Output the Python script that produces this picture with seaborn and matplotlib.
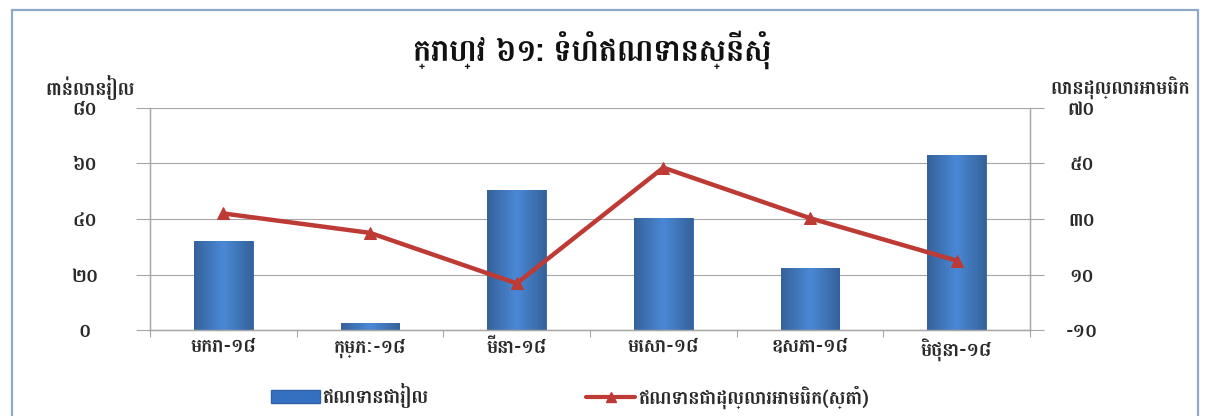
import matplotlib
matplotlib.use("Agg")
import matplotlib.pyplot as plt
import matplotlib.patches as mpatches
from matplotlib.lines import Line2D
import numpy as np
import seaborn as sns

# Monthly loan applications, 2018
months = ["មករា-១៨", "កុម្ភៈ-១៨", "មីនា-១៨", "មេសា-១៨", "ឧសភា-១៨", "មិថុនា-១៨"]
riel_loans = [32, 2.5, 50.5, 40.3, 22.3, 63]      # billion riel (left axis)
usd_loans = [32, 25, 6.8, 48.5, 30.3, 15]          # million USD (right axis)

left_ticks = [0, 20, 40, 60, 80]
left_labels = ["០", "២០", "៤០", "៦០", "៨០"]
right_ticks = [-10, 10, 30, 50, 70]
right_labels = ["-១០", "១០", "៣០", "៥០", "៧០"]

title = "ក្រាហ្វ ៦១: ទំហំឥណទានស្នើសុំ"
left_unit = "ពាន់លានរៀល"
right_unit = "លានដុល្លារអាមេរិក"
riel_name = "ឥណទានជារៀល"
usd_name = "ឥណទានជាដុល្លារអាមេរិក(ស្តាំ)"

sns.set_theme(style="white")
plt.rcParams["font.family"] = ["Battambang", "DejaVu Sans"]

BAR_BLUE = "#3570c0"
LINE_RED = "#bd3a35"
GRID = "#a6a6a6"
TEXT = "#2a2a2a"
FS = 13.5

fig = plt.figure(figsize=(12.08, 4.16), dpi=100)
ax = fig.add_axes([150 / 1208, 1 - 330 / 416, 880 / 1208, 222 / 416])

sns.barplot(x=months, y=riel_loans, ax=ax, color=BAR_BLUE, width=0.4,
            saturation=1, zorder=2)

# cylinder-like horizontal shading on each bar
shade = np.concatenate([np.linspace(0.72, 1.0, 64), np.linspace(1.0, 0.72, 64)])
base = np.array(matplotlib.colors.to_rgb("#4a88d6"))
grad = np.clip(base[None, None, :] * shade[None, :, None], 0, 1)
for p in ax.patches:
    x0, y0 = p.get_x(), p.get_y()
    w, h = p.get_width(), p.get_height()
    im = ax.imshow(grad, extent=[x0, x0 + w, y0, y0 + h], aspect="auto",
                   origin="lower", zorder=2.5)
    im.set_clip_path(p)
    p.set_edgecolor("#2d62aa")
    p.set_linewidth(0.6)

ax.set_xlim(-0.5, len(months) - 0.5)
ax.set_ylim(0, 80)
ax.set_yticks(left_ticks)
ax.set_yticklabels(left_labels)
ax.yaxis.grid(True, color=GRID, linewidth=0.8, zorder=0)
ax.set_axisbelow(True)

ax2 = ax.twinx()
sns.lineplot(x=months, y=usd_loans, ax=ax2, sort=False, color=LINE_RED,
             linewidth=3.2, marker="^", markersize=8, markeredgecolor=LINE_RED,
             zorder=4)
ax2.set_ylim(-10, 70)
ax2.set_yticks(right_ticks)
ax2.set_yticklabels(right_labels)
ax2.set_xlim(-0.5, len(months) - 0.5)

for a in (ax, ax2):
    a.spines["top"].set_visible(False)
    for side in ("left", "right", "bottom"):
        a.spines[side].set_color(GRID)
        a.spines[side].set_linewidth(0.9)
    a.set_ylabel("")
    a.set_xlabel("")

ax.tick_params(axis="y", which="major", left=True, length=10, width=0.8,
               color=GRID, labelsize=FS, labelcolor=TEXT, pad=37)
ax2.tick_params(axis="y", which="major", right=True, length=10, width=0.8,
                color=GRID, labelsize=FS, labelcolor=TEXT, pad=27)
# category ticks sit between the bars
ax.set_xticks(np.arange(len(months)))
ax.set_xticklabels(months)
ax.set_xticks(np.arange(len(months) + 1) - 0.5, minor=True)
ax.tick_params(axis="x", which="major", length=0, labelsize=FS,
               labelcolor=TEXT, pad=6)
ax.tick_params(axis="x", which="minor", bottom=True, length=5, width=0.8,
               color=GRID)
for lbl in ax.get_yticklabels() + ax2.get_yticklabels() + ax.get_xticklabels():
    lbl.set_fontweight("bold")
for lbl in ax.get_yticklabels():
    lbl.set_horizontalalignment("center")
for lbl in ax2.get_yticklabels():
    lbl.set_horizontalalignment("center")

fig.text(0.49, 1 - 50 / 416, title, ha="center", va="center",
         fontsize=22, fontweight="bold", color="#111111")
fig.text(45 / 1208, 1 - 88 / 416, left_unit, ha="left", va="center",
         fontsize=FS, fontweight="bold", color=TEXT)
fig.text(1120 / 1208, 1 - 88 / 416, right_unit, ha="center", va="center",
         fontsize=FS, fontweight="bold", color=TEXT)

handles = [
    mpatches.Patch(facecolor=BAR_BLUE, edgecolor="#2d62aa"),
    Line2D([0], [0], color=LINE_RED, linewidth=3, marker="^",
           markersize=7),
]
fig.legend(handles, [riel_name, usd_name], loc="center left",
           bbox_to_anchor=(258 / 1208, 1 - 396 / 416), ncol=2, frameon=False,
           prop={"size": FS, "weight": "bold"}, handlelength=2.6,
           handleheight=0.7, handletextpad=0.15, columnspacing=8.4,
           borderpad=0.2)
for t in fig.legends[0].get_texts():
    t.set_color(TEXT)

# light blue frame round the whole chart
fig.patches.append(mpatches.Rectangle((12 / 1208, -0.05),
                                      1186 / 1208, 1.05 - 10 / 416,
                                      transform=fig.transFigure,
                                      fill=False, edgecolor="#8fa8c8",
                                      linewidth=1.6))

fig.savefig("out.png", dpi=100)
